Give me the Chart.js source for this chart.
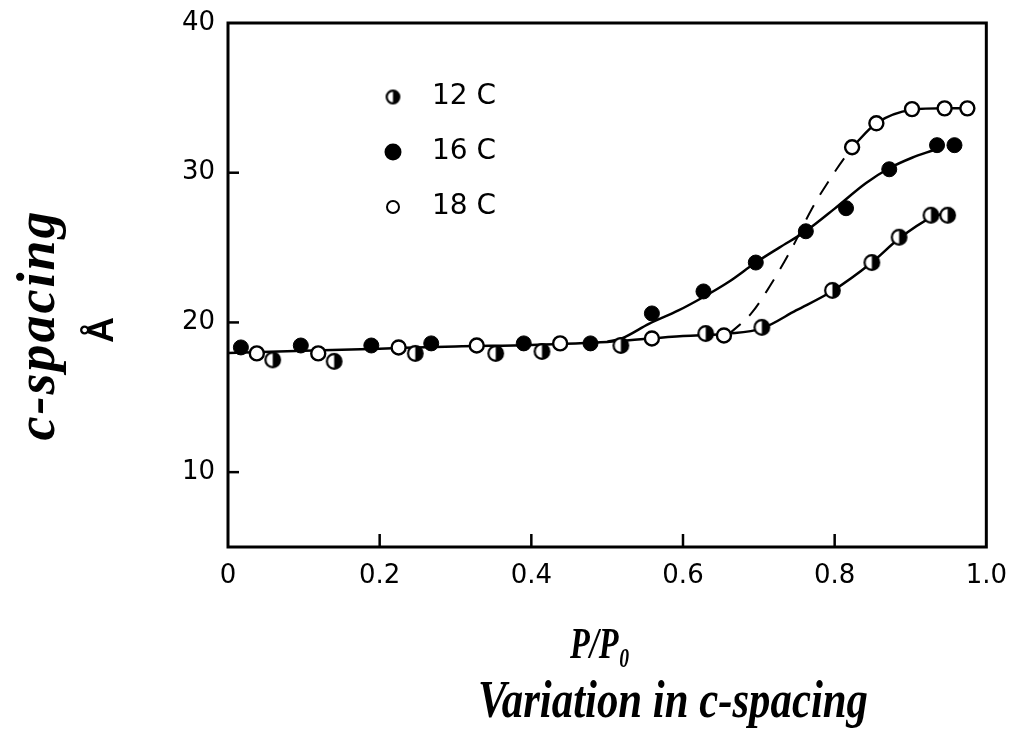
<!DOCTYPE html>
<html>
<head>
<meta charset="utf-8">
<script src="https://cdn.jsdelivr.net/npm/chart.js@4.4.1/dist/chart.umd.min.js"></script>
<style>
html, body { margin: 0; padding: 0; background: #fff; }
</style>
</head>
<body>
<canvas id="grafica" width="1013" height="746"></canvas>
<script>
// Ticks de los ejes
const xTicks = [0, 0.2, 0.4, 0.6, 0.8, 1.0];
const yTicks = [10, 20, 30, 40];

// Puntos medidos (P/Po, espaciado c en Å)
const x12C = [0.059, 0.14, 0.247, 0.353, 0.414, 0.518, 0.63, 0.704, 0.797, 0.849, 0.885, 0.927, 0.949];
const y12C = [17.5, 17.4, 17.93, 17.93, 18.06, 18.46, 19.26, 19.67, 22.14, 24.0, 25.69, 27.16, 27.16];

const x16C = [0.017, 0.096, 0.189, 0.268, 0.39, 0.478, 0.559, 0.627, 0.696, 0.762, 0.815, 0.872, 0.935, 0.958];
const y16C = [18.33, 18.46, 18.46, 18.6, 18.6, 18.6, 20.6, 22.07, 24.0, 26.09, 27.63, 30.23, 31.84, 31.84];

const x18C = [0.038, 0.119, 0.225, 0.328, 0.438, 0.559, 0.654, 0.823, 0.855, 0.902, 0.945, 0.975];
const y18C = [17.93, 17.93, 18.33, 18.46, 18.6, 18.93, 19.13, 31.7, 33.3, 34.25, 34.3, 34.3];

// Curvas trazadas a mano
const xCurva12 = [0, 0.1, 0.2, 0.3, 0.4, 0.5, 0.6, 0.66, 0.704, 0.749, 0.797, 0.849, 0.885, 0.927, 0.945];
const yCurva12 = [17.95, 18.1, 18.25, 18.4, 18.5, 18.7, 19.1, 19.25, 19.6, 20.8, 22.1, 24.0, 25.6, 27.0, 27.3];

const xCurva16 = [0.5, 0.52, 0.555, 0.594, 0.627, 0.66, 0.696, 0.727, 0.762, 0.8, 0.841, 0.872, 0.902, 0.93];
const yCurva16 = [18.7, 18.95, 19.9, 20.8, 21.7, 22.7, 24.0, 25.0, 26.1, 27.6, 29.3, 30.3, 31.0, 31.5];

const xCurva18Trazos = [0.66, 0.69, 0.713, 0.744, 0.77, 0.802, 0.823];
const yCurva18Trazos = [19.2, 20.6, 22.3, 25.0, 27.6, 30.2, 31.7];

const xCurva18 = [0.823, 0.855, 0.902, 0.945, 0.975];
const yCurva18 = [31.7, 33.3, 34.2, 34.3, 34.3];

const toXY = (xs, ys) => xs.map((x, i) => ({ x: x, y: ys[i] }));

// Marcador mitad lleno (mitad derecha negra)
const mediaMarca = (r) => {
    const c = document.createElement('canvas');
    const s = Math.ceil(r * 2 + 4);
    c.width = s; c.height = s;
    const g = c.getContext('2d');
    const m = s / 2;
    g.beginPath(); g.arc(m, m, r, 0, Math.PI * 2); g.fillStyle = '#fff'; g.fill();
    g.beginPath(); g.moveTo(m, m); g.arc(m, m, r, -Math.PI / 2, Math.PI / 2); g.closePath();
    g.fillStyle = '#000'; g.fill();
    g.beginPath(); g.arc(m, m, r, 0, Math.PI * 2); g.lineWidth = 2.2; g.strokeStyle = '#000'; g.stroke();
    return c;
};
const marcaMedia = mediaMarca(7.3);
const marcaMediaLeyenda = mediaMarca(6.3);

const fuenteTicks = { family: '"DejaVu Sans", Arial, sans-serif', size: 26 };

// Recuadro y marcas de ticks hacia dentro
const recuadro = {
    id: 'recuadro',
    afterDraw(chart) {
        const { ctx, chartArea: a, scales } = chart;
        ctx.save();
        ctx.strokeStyle = '#000';
        ctx.lineWidth = 3;
        ctx.strokeRect(a.left, a.top, a.right - a.left, a.bottom - a.top);
        ctx.lineWidth = 2.5;
        scales.x.ticks.forEach(t => {
            if (t.value <= 0 || t.value >= 1) return;
            const px = scales.x.getPixelForValue(t.value);
            ctx.beginPath(); ctx.moveTo(px, a.bottom); ctx.lineTo(px, a.bottom - 13); ctx.stroke();
        });
        scales.y.ticks.forEach(t => {
            if (t.value >= 40) return;
            const py = scales.y.getPixelForValue(t.value);
            ctx.beginPath(); ctx.moveTo(a.left, py); ctx.lineTo(a.left + 11, py); ctx.stroke();
        });
        ctx.restore();
    }
};

// Leyenda dentro del área de la gráfica
const leyenda = {
    id: 'leyenda',
    afterDraw(chart) {
        const { ctx, chartArea: a } = chart;
        ctx.save();
        ctx.font = '28px "DejaVu Sans", Arial, sans-serif';
        ctx.textBaseline = 'middle';
        ctx.fillStyle = '#000';
        chart.data.datasets.filter(d => d.enLeyenda).forEach((d, i) => {
            const x = a.left + 165;
            const y = a.top + 74 + i * 55;
            if (d.tipo === 'media') {
                ctx.drawImage(marcaMediaLeyenda, x - marcaMediaLeyenda.width / 2, y - marcaMediaLeyenda.height / 2);
            } else if (d.tipo === 'llena') {
                ctx.beginPath(); ctx.arc(x, y, 8.5, 0, Math.PI * 2); ctx.fill();
            } else {
                ctx.beginPath(); ctx.arc(x, y, 6, 0, Math.PI * 2);
                ctx.lineWidth = 2; ctx.strokeStyle = '#000'; ctx.stroke();
            }
            ctx.fillText(d.label, x + 39, y);
        });
        ctx.restore();
    }
};

// Títulos manuscritos de los ejes y pie
const textos = {
    id: 'textos',
    afterDraw(chart) {
        const ctx = chart.ctx;
        ctx.save();
        ctx.fillStyle = '#000';
        ctx.textAlign = 'center';
        ctx.textBaseline = 'alphabetic';
        // eje y
        ctx.save();
        ctx.translate(54, 325);
        ctx.rotate(-Math.PI / 2);
        ctx.font = 'bold italic 54px "Liberation Serif", serif';
        ctx.letterSpacing = '2px';
        ctx.fillText('c-spacing', 0, 0, 234);
        ctx.restore();
        ctx.save();
        ctx.translate(113, 330);
        ctx.rotate(-Math.PI / 2);
        ctx.font = 'bold 36px "Liberation Sans", sans-serif';
        ctx.fillText('Å', 0, 0);
        ctx.restore();
        // eje x
        ctx.font = 'bold italic 44px "Liberation Serif", serif';
        ctx.fillText('P/P₀', 600, 658, 60);
        ctx.font = 'bold italic 52px "Liberation Serif", serif';
        ctx.fillText('Variation in c-spacing', 673, 717, 390);
        ctx.restore();
    }
};

const ctx = document.getElementById('grafica').getContext('2d');
new Chart(ctx, {
    type: 'scatter',
    data: {
        datasets: [
            {
                label: '12 C', tipo: 'media', enLeyenda: true,
                data: toXY(x12C, y12C),
                pointStyle: marcaMedia,
                pointRadius: 7.5,
                order: 1
            },
            {
                label: '16 C', tipo: 'llena', enLeyenda: true,
                data: toXY(x16C, y16C),
                pointStyle: 'circle',
                pointRadius: 7.5,
                backgroundColor: '#000',
                borderColor: '#000',
                borderWidth: 1,
                order: 1
            },
            {
                label: '18 C', tipo: 'vacia', enLeyenda: true,
                data: toXY(x18C, y18C),
                pointStyle: 'circle',
                pointRadius: 7,
                backgroundColor: '#fff',
                borderColor: '#000',
                borderWidth: 2.4,
                order: 1
            },
            {
                data: toXY(xCurva12, yCurva12),
                showLine: true, pointRadius: 0,
                borderColor: '#000', borderWidth: 2.5,
                cubicInterpolationMode: 'monotone',
                order: 2
            },
            {
                data: toXY(xCurva16, yCurva16),
                showLine: true, pointRadius: 0,
                borderColor: '#000', borderWidth: 2.5,
                cubicInterpolationMode: 'monotone',
                order: 2
            },
            {
                data: toXY(xCurva18Trazos, yCurva18Trazos),
                showLine: true, pointRadius: 0,
                borderColor: '#000', borderWidth: 2,
                borderDash: [16, 12],
                cubicInterpolationMode: 'monotone',
                order: 2
            },
            {
                data: toXY(xCurva18, yCurva18),
                showLine: true, pointRadius: 0,
                borderColor: '#000', borderWidth: 2.5,
                cubicInterpolationMode: 'monotone',
                order: 2
            }
        ]
    },
    options: {
        responsive: false,
        animation: false,
        layout: { padding: { left: 0, right: 26, top: 23, bottom: 0 } },
        plugins: {
            legend: { display: false },
            tooltip: { enabled: false }
        },
        scales: {
            x: {
                type: 'linear',
                min: 0,
                max: 1.0,
                afterBuildTicks: (s) => { s.ticks = xTicks.map(v => ({ value: v })); },
                afterFit: (s) => { s.height = 199; },
                grid: { display: false },
                border: { display: false },
                ticks: {
                    color: '#000',
                    font: fuenteTicks,
                    padding: 6,
                    maxRotation: 0,
                    callback: (v) => v === 0 ? '0' : v.toFixed(1)
                }
            },
            y: {
                type: 'linear',
                min: 5,
                max: 40,
                afterBuildTicks: (s) => { s.ticks = yTicks.map(v => ({ value: v })); },
                afterFit: (s) => { s.width = 228; },
                grid: { display: false },
                border: { display: false },
                ticks: {
                    color: '#000',
                    font: fuenteTicks,
                    padding: 5
                }
            }
        }
    },
    plugins: [recuadro, leyenda, textos]
});
</script>
</body>
</html>
